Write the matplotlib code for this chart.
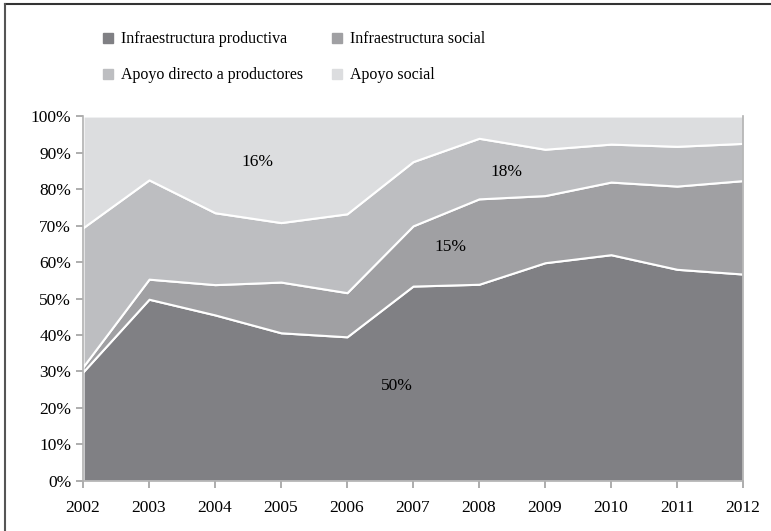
import matplotlib.pyplot as plt
from matplotlib.lines import Line2D

years = [2002, 2003, 2004, 2005, 2006, 2007, 2008, 2009, 2010, 2011, 2012]
infra_productiva = [29.9, 49.8, 45.5, 40.6, 39.5, 53.4, 53.9, 59.8, 62.0, 58.0, 56.7]
infra_social = [1.4, 5.5, 8.3, 13.9, 12.1, 16.5, 23.4, 18.4, 19.9, 22.8, 25.6]
apoyo_directo = [38.1, 27.2, 19.7, 16.3, 21.6, 17.6, 16.6, 12.7, 10.4, 10.9, 10.2]
apoyo_social = [30.6, 17.5, 26.5, 29.2, 26.8, 12.5, 6.1, 9.1, 7.7, 8.3, 7.5]

labels = ['Infraestructura productiva', 'Infraestructura social',
          'Apoyo directo a productores', 'Apoyo social']
colors = ['#808084', '#a0a0a3', '#bdbec1', '#dcdddf']

# annotations: text, x, y
notes = [('16%', 2004.65, 87.4), ('18%', 2008.42, 84.7),
         ('15%', 2007.56, 64.1), ('50%', 2006.76, 26.0)]

plt.rcParams['font.family'] = ['Liberation Serif', 'DejaVu Serif']

fig = plt.figure(figsize=(7.71, 5.31), dpi=100)
ax = fig.add_axes([0.1077, 0.0942, 0.856, 0.6873])

ax.stackplot(years, infra_productiva, infra_social, apoyo_directo, apoyo_social,
             colors=colors, edgecolor='white', linewidth=1.5)

ax.set_xlim(2002, 2012)
ax.set_ylim(0, 100)
ax.set_xticks(years)
ax.set_yticks(range(0, 101, 10))
ax.set_yticklabels([f'{v}%' for v in range(0, 101, 10)])
ax.tick_params(labelsize=12.5, colors='#a0a0a0', labelcolor='black',
               direction='out', length=5, width=1.2)
ax.tick_params(axis='x', pad=9)
ax.spines['top'].set_visible(False)
for side in ['left', 'bottom', 'right']:
    ax.spines[side].set_color('#b0b0b0')
    ax.spines[side].set_linewidth(1.2)

for txt, x, y in notes:
    ax.text(x, y, txt, ha='center', va='center', fontsize=12.5)

# legend fills by column, so reorder to read row-wise like the original
order = [0, 2, 1, 3]
handles = [Line2D([], [], marker='s', linestyle='none', markersize=7,
                  markerfacecolor=colors[i], markeredgecolor=colors[i]) for i in order]
fig.legend(handles, [labels[i] for i in order], loc='upper left',
           bbox_to_anchor=(0.1115, 0.968), ncol=2, frameon=False, fontsize=11.5,
           handletextpad=0.3, columnspacing=1.6, labelspacing=1.25, handlelength=1.0)

# outer frame lines (top and left)
fig.add_artist(Line2D([5 / 771, 1], [1 - 4 / 531, 1 - 4 / 531],
                      transform=fig.transFigure, color='#333333', linewidth=1.5))
fig.add_artist(Line2D([5 / 771, 5 / 771], [0, 1 - 4 / 531],
                      transform=fig.transFigure, color='#555555', linewidth=1.5))

fig.savefig('out.png', dpi=100)
